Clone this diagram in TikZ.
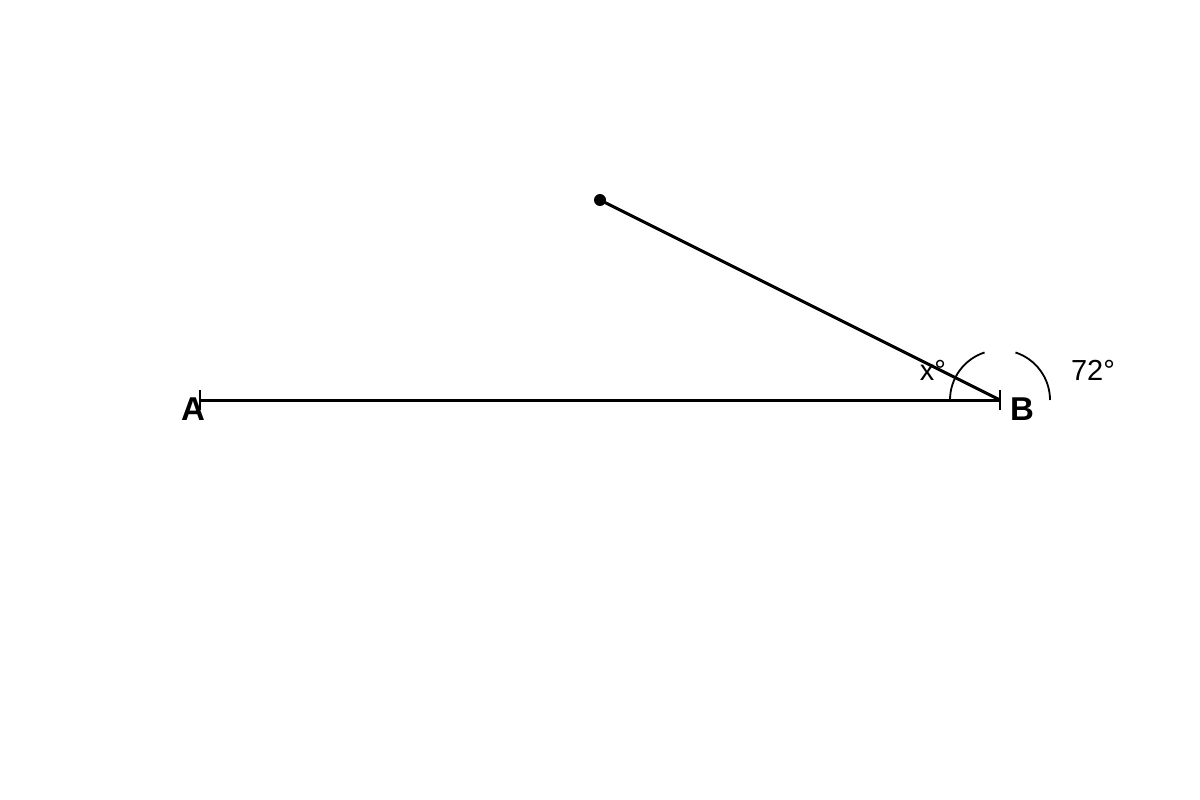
\documentclass[tikz,border=0pt]{standalone}
\usepackage{fontspec}
\setmainfont{Liberation Sans}
\begin{document}
\begin{tikzpicture}[x=1pt,y=-1pt,
  seg/.style={line width=3pt},
  tickmark/.style={line width=1.8pt},
  anglearc/.style={line width=1.8pt},
  ptlabel/.style={font=\fontsize{33}{37}\selectfont\bfseries, inner sep=0pt},
  anglabel/.style={font=\fontsize{29}{33}\selectfont, inner sep=0pt}]
\useasboundingbox (0,0) rectangle (1200,800);
\coordinate (A) at (200,400);
\coordinate (B) at (1000,400);
\coordinate (P) at (600,200);
\draw[seg] (A) -- (B);
\draw[seg] (B) -- (P);
\fill (P) circle (6);
\draw[tickmark] (200,390) -- (200,410);
\draw[tickmark] (1000,390) -- (1000,410);
\draw[anglearc] (B) ++(180:50) arc[start angle=180, end angle=252, radius=50];
\draw[anglearc] (B) ++(0:50) arc[start angle=0, end angle=-72, radius=50];
\node[ptlabel] (la) at (193,409) {A};
\node[ptlabel] (lb) at (1022,409) {B};
\node[anglabel] (lx) at (933,370) {x°};
\node[anglabel] (l72) at (1093,370) {72°};
\end{tikzpicture}
\end{document}
